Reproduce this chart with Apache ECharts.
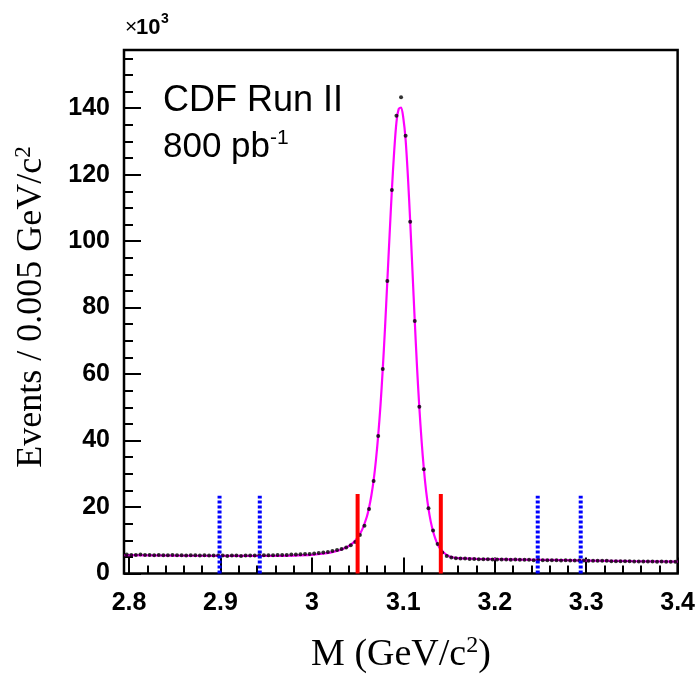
<!DOCTYPE html>
<html><head><meta charset="utf-8">
<script src="https://cdn.jsdelivr.net/npm/echarts@6/dist/echarts.min.js"></script>
<style>html,body{margin:0;padding:0;background:#fff}#c{width:698px;height:677px}</style>
</head><body><div id="c"></div>
<script>
// histogram definition (bins of 0.005 GeV/c^2)
const BIN_LO = 2.795, BIN_W = 0.005;
// events per bin (x10^3)
const counts = [
 5.7,5.6,5.6,5.7,5.6,5.6,5.5,5.6,5.5,5.5,
 5.6,5.5,5.5,5.4,5.5,5.5,5.4,5.5,5.4,5.4,
 5.4,5.4,5.3,5.4,5.4,5.3,5.4,5.4,5.4,5.5,
 5.5,5.5,5.5,5.6,5.6,5.6,5.7,5.7,5.8,5.9,
 5.9,6.0,6.2,6.3,6.5,6.8,7.1,7.4,7.8,8.5,
 9.5,11.6,14.4,19.4,27.8,41.4,61.5,88.0,115.4,137.7,
 143.3,131.7,105.8,76.0,50.2,31.4,19.6,12.9,8.9,6.3,
 5.3,4.8,
 4.6,4.5,4.5,4.4,4.4,4.3,4.3,4.3,4.2,4.2,
 4.2,4.2,4.1,4.2,4.1,4.1,4.1,4.0,4.1,4.0,
 4.0,4.0,4.0,3.9,4.0,3.9,3.9,3.9,3.9,3.8,
 3.8,3.8,3.8,3.8,3.7,3.7,3.7,3.7,3.7,3.6,
 3.6,3.6,3.6,3.6,3.5,3.6,3.5,3.5,3.5
];
// fit curve (x10^3)
const fitX = [2.795,2.85,2.90,2.95,2.98,3.00,3.01,3.02,3.03,3.035,3.04,3.045,3.05,3.055,3.06,3.0625,3.065,3.0675,3.07,3.0725,3.075,3.0775,3.08,3.0825,3.085,3.0875,3.09,3.0925,3.095,3.0975,3.10,3.1025,3.105,3.1075,3.11,3.1125,3.115,3.1175,3.12,3.1225,3.125,3.1275,3.13,3.1325,3.135,3.1375,3.14,3.145,3.15,3.155,3.16,3.18,3.20,3.25,3.30,3.35,3.40];
const fitY = [5.5,5.4,5.3,5.3,5.4,5.6,5.9,6.3,7.0,7.5,8.2,9.2,10.8,13.2,17.0,19.8,23.4,28.0,34.0,41.5,50.5,61.5,74.0,88.0,102.0,115.5,127.0,135.8,139.8,140.2,137.0,130.5,119.5,106.0,91.0,76.0,62.0,50.0,39.8,31.3,24.6,19.5,15.6,12.7,10.5,8.8,7.6,6.1,5.2,4.8,4.6,4.4,4.3,4.1,3.9,3.7,3.55];
// signal window (red) and sidebands (blue dotted)
const redCuts = [3.05, 3.141];
const redTop = 23.9;
const blueCuts = [2.899, 2.943, 3.247, 3.294];
const blueTop = 23.4;
// axes
const xMin = 2.7945, xMax = 3.4;
const yMin = 0, yMax = 157.5;
const xMajor = [2.8, 2.9, 3.0, 3.1, 3.2, 3.3, 3.4];
const xMinor = [2.82,2.84,2.86,2.88,2.92,2.94,2.96,2.98,3.02,3.04,3.06,3.08,3.12,3.14,3.16,3.18,3.22,3.24,3.26,3.28,3.32,3.34,3.36,3.38];
const yMajor = [0,20,40,60,80,100,120,140];
const yMinor = [5,10,15,25,30,35,45,50,55,65,70,75,85,90,95,105,110,115,125,130,135,145,150,155];

const pts = counts.map((v,i)=>[+(BIN_LO + BIN_W*(i+0.5)).toFixed(4), v]);
const fit = fitX.map((x,i)=>[x, fitY[i]]);

const chart = echarts.init(document.getElementById('c'), null, {renderer:'canvas'});
const labelFont = {fontFamily:'Liberation Sans, Arial, sans-serif', fontWeight:'bold', fontSize:25, color:'#000'};
const series = [
  {type:'line', data: fit, showSymbol:false, smooth:0.3, lineStyle:{color:'#ff00ff', width:2.2}, z:3, silent:true},
  {type:'scatter', data: pts, symbol:'circle', symbolSize:4, itemStyle:{color:'#000'}, z:4, silent:true}
];
redCuts.forEach(x=>series.push({type:'line', data:[[x,0],[x,redTop]], showSymbol:false, lineStyle:{color:'#ff0000', width:4}, z:5, silent:true}));
blueCuts.forEach(x=>series.push({type:'line', data:[[x,0],[x,blueTop]], showSymbol:false, lineStyle:{color:'#0000ff', width:4, type:[3,2]}, z:5, silent:true}));

chart.setOption({
  animation:false,
  grid:{left:124, top:50, right:19.5, bottom:103.5, show:true, borderColor:'#000', borderWidth:2.5, backgroundColor:'transparent'},
  xAxis:[
    {type:'value', min:xMin, max:xMax, position:'bottom',
     axisLine:{show:false}, splitLine:{show:false},
     axisTick:{show:true, inside:true, length:16, lineStyle:{color:'#000', width:2}, customValues:xMajor},
     axisLabel:{show:true, margin:17, customValues:xMajor, formatter:v=>String(+v.toFixed(1)), ...labelFont}},
    {type:'value', min:xMin, max:xMax, position:'bottom',
     axisLine:{show:false}, splitLine:{show:false},
     axisTick:{show:true, inside:true, length:8, lineStyle:{color:'#000', width:2}, customValues:xMinor},
     axisLabel:{show:false}}
  ],
  yAxis:[
    {type:'value', min:yMin, max:yMax, position:'left',
     axisLine:{show:false}, splitLine:{show:false},
     axisTick:{show:true, inside:true, length:17, lineStyle:{color:'#000', width:2}, customValues:yMajor},
     axisLabel:{show:true, margin:14, customValues:yMajor, ...labelFont}},
    {type:'value', min:yMin, max:yMax, position:'left',
     axisLine:{show:false}, splitLine:{show:false},
     axisTick:{show:true, inside:true, length:9, lineStyle:{color:'#000', width:2}, customValues:yMinor},
     axisLabel:{show:false}}
  ],
  series: series,
  graphic:[
    {type:'text', x:125, y:27, style:{text:'×', fontFamily:'Liberation Sans', fontSize:21, fill:'#000', verticalAlign:'middle'}},
    {type:'text', x:136, y:28, style:{text:'10', fontFamily:'Liberation Sans', fontWeight:'bold', fontSize:22, fill:'#000', verticalAlign:'middle'}},
    {type:'text', x:161, y:19, style:{text:'3', fontFamily:'Liberation Sans', fontWeight:'bold', fontSize:14, fill:'#000', verticalAlign:'middle'}},
    {type:'text', x:163, y:101, style:{text:'CDF Run II', fontFamily:'Liberation Sans', fontSize:36, fill:'#000', verticalAlign:'middle'}},
    {type:'text', x:163, y:147, style:{text:'{n|800 pb}{s|-1}', fontSize:35, verticalAlign:'middle', rich:{
      n:{fontFamily:'Liberation Sans', fontSize:35, fill:'#000'},
      s:{fontFamily:'Liberation Sans', fontSize:21, fill:'#000', padding:[0,0,18,0]}}}},
    {type:'text', x:32, y:307, rotation:Math.PI/2, style:{text:'{n|Events / 0.005 GeV/c}{s|2}', fontSize:36, align:'center', verticalAlign:'middle', rich:{
      n:{fontFamily:'Liberation Serif', fontSize:36, fill:'#000'},
      s:{fontFamily:'Liberation Serif', fontSize:23, fill:'#000', padding:[0,0,17,0]}}}},
    {type:'text', x:401, y:655, style:{text:'{n|M (GeV/c}{s|2}{n|)}', fontSize:38, align:'center', verticalAlign:'middle', rich:{
      n:{fontFamily:'Liberation Serif', fontSize:38, fill:'#000'},
      s:{fontFamily:'Liberation Serif', fontSize:24, fill:'#000', padding:[0,0,18,0]}}}}
  ]
});
</script></body></html>
